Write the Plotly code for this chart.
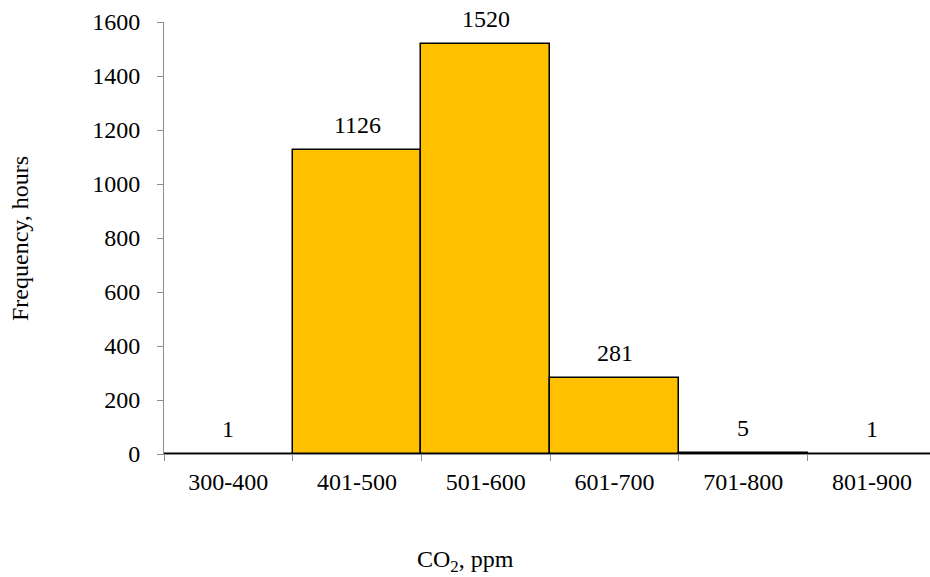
import plotly.graph_objects as go

# CO2 concentration bins and hours counted in each
bins = ["300-400", "401-500", "501-600", "601-700", "701-800", "801-900"]
hours = [1, 1126, 1520, 281, 5, 1]
y_ticks = [0, 200, 400, 600, 800, 1000, 1200, 1400, 1600]

font = "Liberation Serif, Times New Roman, serif"
fsize = 24

fig = go.Figure()
fig.add_trace(go.Bar(
    x=bins,
    y=hours,
    width=1,
    marker=dict(color="#FFC000", line=dict(color="#000000", width=1.5)),
    cliponaxis=False,
    hoverinfo="y",
))

# value labels above each bar
labels = [dict(x=b, y=h, text=str(h), xref="x", yref="y",
               yanchor="bottom", yshift=10, showarrow=False,
               font=dict(family=font, size=fsize, color="#000000"))
          for b, h in zip(bins, hours)]

labels.append(dict(
    text="CO<sub>2</sub>, ppm",
    xref="paper", yref="paper",
    x=0.393, y=-0.247,
    xanchor="center", yanchor="middle",
    showarrow=False,
    font=dict(family=font, size=fsize),
))
labels.append(dict(
    text="Frequency, hours",
    xref="paper", yref="paper",
    x=-0.188, y=0.5,
    xanchor="center", yanchor="middle",
    textangle=-90,
    showarrow=False,
    font=dict(family=font, size=fsize),
))

fig.update_layout(
    width=930,
    height=577,
    showlegend=False,
    plot_bgcolor="white",
    paper_bgcolor="white",
    margin=dict(l=164, r=0, t=22, b=123, autoexpand=False),
    font=dict(family=font, size=fsize, color="#000000"),
    bargap=0,
    xaxis=dict(
        range=[-0.5, 5.45],
        showline=True,
        linecolor="#8c8c8c",
        linewidth=1,
        ticks="outside",
        tickson="boundaries",
        ticklen=6,
        tickcolor="#8c8c8c",
        tickfont=dict(size=fsize),
        ticklabelstandoff=6,
        showgrid=False,
        zeroline=False,
        automargin=False,
    ),
    yaxis=dict(
        range=[0, 1600],
        tickvals=y_ticks,
        showline=True,
        linecolor="#8c8c8c",
        linewidth=1,
        ticks="outside",
        ticklen=6,
        tickcolor="#8c8c8c",
        tickfont=dict(size=fsize),
        ticklabelstandoff=12,
        showgrid=False,
        zeroline=False,
        automargin=False,
    ),
    annotations=labels,
)

# drop the default page margin so the figure sits at the window's corner
fig.write_html("out.html", config={"displayModeBar": False},
               post_script="document.body.style.margin='0';")
